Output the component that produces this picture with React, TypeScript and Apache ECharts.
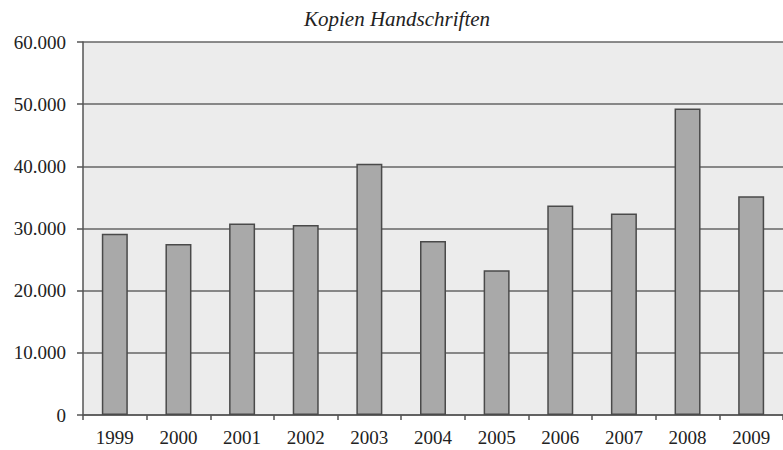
import React, { useEffect, useRef } from "react";
import * as echarts from "echarts";

const years = ["1999", "2000", "2001", "2002", "2003", "2004", "2005", "2006", "2007", "2008", "2009"];
const copies = [29150, 27500, 30800, 30550, 40400, 28000, 23300, 33700, 32400, 49300, 35200];
const titleText = "Kopien Handschriften";

export default function App() {
  const ref = useRef<HTMLDivElement>(null);
  useEffect(() => {
    document.body.style.margin = "0";
    const chart = echarts.init(ref.current!, null, { renderer: "svg" });
    const font = "Liberation Serif";
    chart.setOption({
      animation: false,
      backgroundColor: "#ffffff",
      title: {
        text: titleText,
        left: 299,
        top: 3,
        textStyle: { fontFamily: font, fontStyle: "italic", fontWeight: "normal", fontSize: 21, color: "#222" },
      },
      grid: {
        left: 83,
        top: 42,
        width: 704,
        height: 373,
        show: true,
        backgroundColor: "#ececec",
        borderWidth: 0,
      },
      xAxis: {
        type: "category",
        data: years,
        axisLine: { lineStyle: { color: "#555", width: 1.5 } },
        axisTick: { show: true, length: 5, lineStyle: { color: "#555", width: 1.5 } },
        axisLabel: { fontFamily: font, fontSize: 19, color: "#222", margin: 13 },
      },
      yAxis: {
        type: "value",
        min: 0,
        max: 60000,
        interval: 10000,
        axisLine: { show: true, lineStyle: { color: "#555", width: 1.5 } },
        axisTick: { show: true, length: 6, lineStyle: { color: "#555", width: 1.5 } },
        splitLine: { lineStyle: { color: "#666", width: 1.5 } },
        axisLabel: {
          fontFamily: font,
          fontSize: 19,
          color: "#222",
          margin: 17,
          formatter: (v: number) => (v === 0 ? "0" : (v / 1000).toFixed(0) + ".000"),
        },
      },
      series: [
        {
          type: "bar",
          data: copies,
          barWidth: 26,
          itemStyle: { color: "#a9a9a9", borderColor: "#4a4a4a", borderWidth: 1.5 },
        },
      ],
    });
    return () => chart.dispose();
  }, []);
  return <div ref={ref} style={{ width: 783, height: 450 }} />;
}
